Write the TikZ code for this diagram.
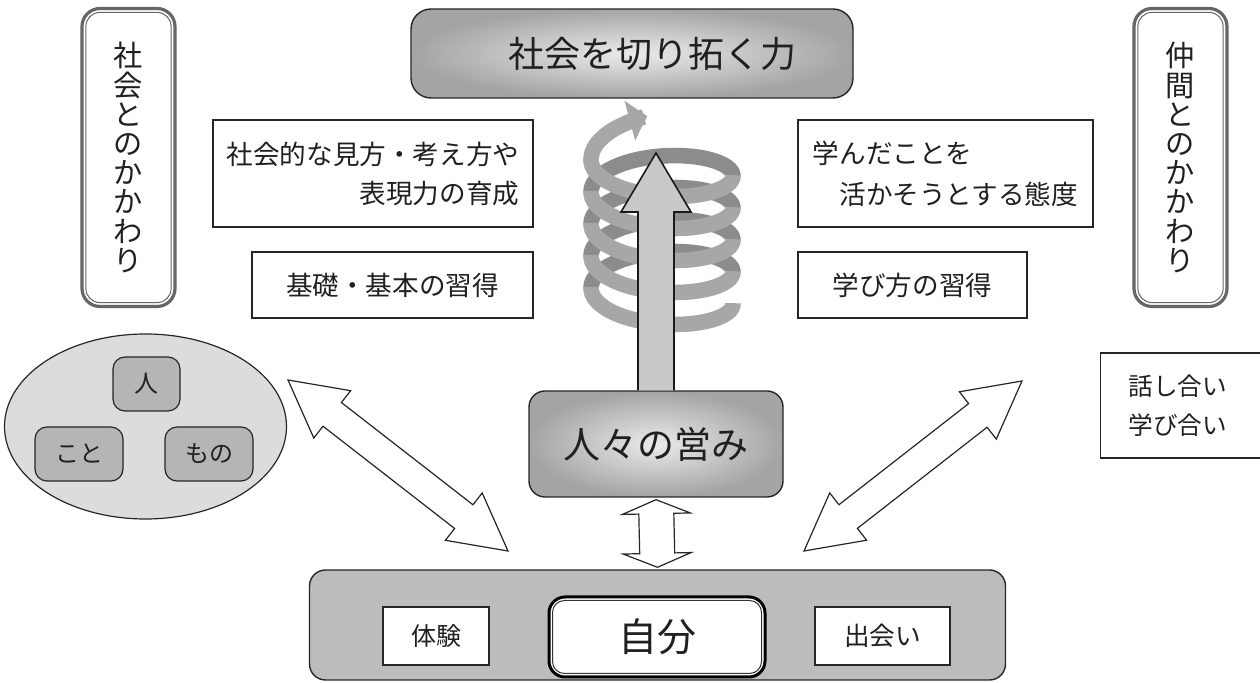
\documentclass[tikz,border=0pt]{standalone}
\usepackage{fontspec}
\setmainfont{Noto Sans CJK JP}
\usetikzlibrary{calc,shapes.geometric,arrows.meta}
\definecolor{txt}{HTML}{231F20}
\definecolor{shin}{HTML}{EBEBEB}
\definecolor{shout}{HTML}{A4A4A4}
\definecolor{basegray}{HTML}{BCBCBD}
\definecolor{ellgray}{HTML}{DCDCDD}
\definecolor{smallgray}{HTML}{B5B5B6}
\definecolor{vgray}{HTML}{666666}
\definecolor{arrowgray}{HTML}{C9C9CA}
\definecolor{bandfront}{HTML}{A7A7A8}
\definecolor{bandback}{HTML}{8C8C8D}
\newcommand\fatdbl[5]{%
  \coordinate (fa) at ($(#1)!#3!(#2)$);
  \coordinate (fb) at ($(#2)!#3!(#1)$);
  \draw[fatarrow] (#1) -- ($(fa)!#4!90:(#2)$) -- ($(fa)!#5!90:(#2)$)
    -- ($(fb)!#5!-90:(#1)$) -- ($(fb)!#4!-90:(#1)$) -- (#2)
    -- ($(fb)!#4!90:(#1)$) -- ($(fb)!#5!90:(#1)$)
    -- ($(fa)!#5!-90:(#2)$) -- ($(fa)!#4!-90:(#2)$) -- cycle;}
\tikzset{
  every node/.style={text=txt},
  tbox/.style={draw=black!85, line width=0.6pt, fill=white, inner sep=0pt,
    font=\fontsize{13.3pt}{19.5pt}\selectfont},
  smallbox/.style={draw=black!85, line width=0.6pt, fill=smallgray, rounded corners=6pt,
    inner sep=0pt, minimum height=27pt, font=\fontsize{12pt}{12pt}\selectfont},
  shadebox/.style={draw=black!85, line width=0.7pt, rounded corners=8pt,
    inner color=shin, outer color=shout, inner sep=0pt},
  vbox/.style={draw=vgray, line width=1.6pt, rounded corners=9pt, fill=white,
    minimum width=46.5pt, minimum height=149pt, inner sep=0pt, align=center,
    font=\fontsize{14.6pt}{14.6pt}\selectfont},
  vinner/.style={draw=vgray, line width=0.5pt, rounded corners=7pt},
  fatarrow/.style={draw=black!85, line width=0.6pt, fill=white, line join=miter},
  bigarrow/.style={draw=black!90, line width=0.8pt, fill=arrowgray, line join=miter},
  bandb/.style={draw=bandback, line width=7.8pt},
  bandf/.style={draw=bandfront, line width=7.8pt},
}
\begin{document}
\lineskiplimit=-50pt
\begin{tikzpicture}[x=0.5pt,y=-0.5pt]
\path[use as bounding box] (0,0) rectangle (1260,683);
\clip (0,0) rectangle (1260,683);

% title
\node[shadebox, rounded corners=10pt, minimum width=221pt, minimum height=44.5pt] (title) at (632,53.5) {};
\node[font=\fontsize{18pt}{18pt}\selectfont, inner sep=0pt] (titletext) at (652,53.5) {社会を切り拓く力};

% vertical boxes
\node[vbox] (lv) at (128.5,157.5) {社\\会\\と\\の\\か\\か\\わ\\り};
\draw[vinner] ([shift={(5.5,5.5)}]lv.north west) rectangle ([shift={(-5.5,-5.5)}]lv.south east);
\node[vbox] (rv) at (1180.5,157.5) {仲\\間\\と\\の\\か\\か\\わ\\り};
\draw[vinner] ([shift={(5.5,5.5)}]rv.north west) rectangle ([shift={(-5.5,-5.5)}]rv.south east);

% text boxes
\node[tbox, minimum width=160pt, minimum height=53.5pt, align=right] (b1) at (373,173.5)
  {社会的な見方・考え方や\\表現力の育成};
\node[tbox, minimum width=140.5pt, minimum height=33pt] (b2) at (392.5,285) {基礎・基本の習得};
\node[tbox, minimum width=147.5pt, minimum height=53.5pt, align=left,
  font=\fontsize{13.3pt}{20.5pt}\selectfont] (b3) at (945.5,173.5)
  {学んだことを\\\hspace*{1em}活かそうとする態度};
\node[tbox, minimum width=114.5pt, minimum height=33pt] (b4) at (912.5,285) {学び方の習得};
\node[tbox, anchor=west, minimum height=52.5pt, inner xsep=14pt, text width=80pt, align=left,
  font=\fontsize{12.3pt}{19.5pt}\selectfont] (b5) at (1100,405.5) {話し合い\\学び合い};

% ellipse group
\node[ellipse, draw=black!85, line width=0.6pt, fill=ellgray, minimum width=141pt,
  minimum height=92.5pt] (ell) at (145.5,426.5) {};
\node[smallbox, minimum width=33.5pt] (hito) at (146.5,384) {人};
\node[smallbox, minimum width=44pt] (koto) at (79,454) {こと};
\node[smallbox, minimum width=44pt] (mono) at (209,454) {もの};

% spiral
\foreach \k in {0,...,3}{
  \pgfmathsetmacro\ta{180+360*\k-2}
  \pgfmathsetmacro\tb{360+360*\k+2}
  \draw[bandb] plot[domain=\ta:\tb, samples=40, variable=\t]
    ({662+71*cos(\t)}, {304-0.088889*\t+28*sin(\t)});
}
\foreach \k in {0,...,4}{
  \pgfmathsetmacro\ta{360*\k-2}
  \pgfmathsetmacro\tb{180+360*\k+2}
  \draw[bandf] plot[domain=\ta:\tb, samples=40, variable=\t]
    ({662+71*cos(\t)}, {304-0.088889*\t+28*sin(\t)});
}
\draw[bandf, -{Triangle[width=20pt,length=9pt]}] plot[domain=1618:1698, samples=30, variable=\t]
    ({662+71*cos(\t)}, {304-0.088889*\t+28*sin(\t)-0.12*(\t-1618)});

% 人々の営み
\node[shadebox, minimum width=127pt, minimum height=53pt,
  font=\fontsize{18.5pt}{18.5pt}\selectfont] (eitomi) at (656,444) {人々の営み};

% big upward arrow
\draw[bigarrow] ($(eitomi.north)+(-18,0)$) -- (638,212) -- (621,212) -- (656,153)
  -- (691,212) -- (674,212) -- ($(eitomi.north)+(18,0)$);

% bottom box
\node[draw=black!85, line width=0.7pt, fill=basegray, rounded corners=8pt,
  minimum width=348pt, minimum height=55pt] (base) at (657.5,625) {};
\node[tbox, minimum width=53pt, minimum height=29pt, font=\fontsize{12.5pt}{12.5pt}\selectfont]
  (taiken) at (436,636) {体験};
\node[draw=black, line width=1.5pt, fill=white, rounded corners=8pt, minimum width=108pt,
  minimum height=40pt, inner sep=0pt, font=\fontsize{19.5pt}{19.5pt}\selectfont] (jibun) at (657,637) {自分};
\draw[black!80, line width=0.5pt, rounded corners=6pt]
  ([shift={(5,5)}]jibun.north west) rectangle ([shift={(-5,-5)}]jibun.south east);
\node[tbox, minimum width=67.5pt, minimum height=29pt, font=\fontsize{12.8pt}{12.8pt}\selectfont]
  (deai) at (882.5,636) {出会い};

% double arrows
\coordinate (la) at (288,380);
\coordinate (lb) at (508,551);
\coordinate (ra) at (1022,381);
\coordinate (rb) at (804,551);
\coordinate (va) at ([yshift=-1pt]eitomi.south);
\coordinate (vb) at ([yshift=1pt]base.north);
\fatdbl{la}{lb}{28pt}{15pt}{7.5pt}
\fatdbl{ra}{rb}{28pt}{15pt}{7.5pt}
\fatdbl{va}{vb}{7pt}{17pt}{8.75pt}
\end{tikzpicture}
\end{document}
